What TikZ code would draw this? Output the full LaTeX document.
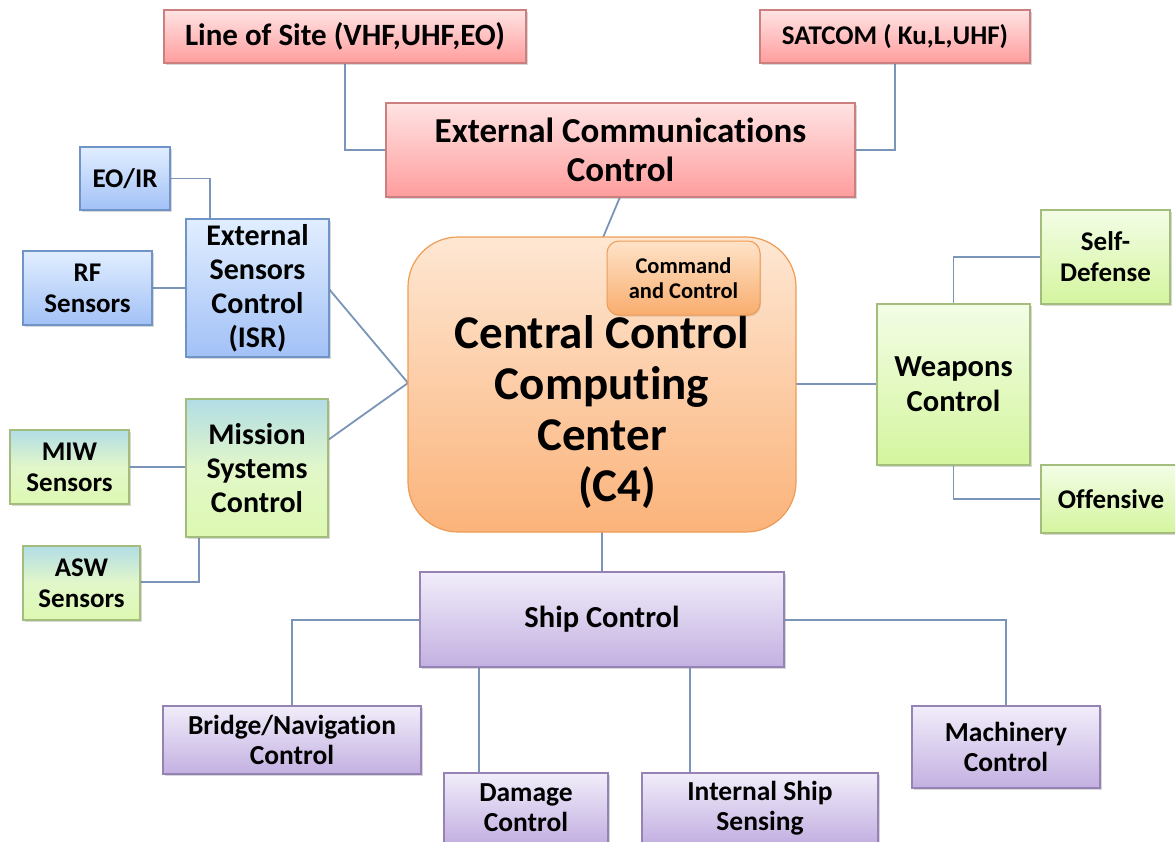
\documentclass[tikz,border=0pt]{standalone}
\usepackage{fontspec}
\setmainfont{Carlito}[Ligatures=NoCommon]
\usetikzlibrary{shadows}

\definecolor{linkc}{HTML}{7A95B8}
\definecolor{pinkT}{HTML}{FFE3E3}\definecolor{pinkB}{HTML}{FF9D9D}\definecolor{pinkD}{HTML}{CC7F7F}
\definecolor{blueT}{HTML}{E1EEFF}\definecolor{blueB}{HTML}{A2C1F6}\definecolor{blueD}{HTML}{7093C8}
\definecolor{grnT}{HTML}{F3FDE6}\definecolor{grnB}{HTML}{D4F59E}\definecolor{grnD}{HTML}{A3BE7C}
\definecolor{tealT}{HTML}{B2DDE6}\definecolor{tealM}{HTML}{E2F7C9}\definecolor{tealB}{HTML}{DDF8B2}
\definecolor{purT}{HTML}{F1EDFA}\definecolor{purB}{HTML}{C3B0E1}\definecolor{purD}{HTML}{9583B3}
\definecolor{orT}{HTML}{FEE7D3}\definecolor{orB}{HTML}{FBB37A}\definecolor{orD}{HTML}{EE9C55}
\definecolor{ccT}{HTML}{FEE3C8}\definecolor{ccB}{HTML}{F9AD6E}

\newcommand{\fs}[2]{\fontsize{#1}{#2}\selectfont}

\tikzset{
  box/.style={rectangle, inner sep=0pt, align=center, line width=1.2pt,
    font=\bfseries, text=black,
    drop shadow={shadow xshift=1.5pt, shadow yshift=-2pt, opacity=0.25, fill=black!60}},
  pinkbox/.style={box, draw=pinkD, top color=pinkT, bottom color=pinkB},
  bluebox/.style={box, draw=blueD, top color=blueT, bottom color=blueB},
  greenbox/.style={box, draw=grnD, top color=grnT, bottom color=grnB},
  tealbox/.style={box, draw=grnD, top color=tealT, bottom color=tealB, middle color=tealM},
  purplebox/.style={box, draw=purD, top color=purT, bottom color=purB},
  link/.style={draw=linkc, line width=1.8pt},
  wh/.style 2 args={minimum width=#1pt, minimum height=#2pt},
}

\begin{document}
\begin{tikzpicture}[x=1pt, y=-1pt]
\clip (0,0) rectangle (1175,841);
\fill[white] (0,0) rectangle (1175,841);

% junction points for the connectors
\coordinate (c4w) at (408,383);
\coordinate (c4n) at (603,237.5);
\coordinate (escTop) at (210,219);
\coordinate (mscLow) at (199,537);
\coordinate (mscUp) at (328,440);
\coordinate (dmgX) at (479,0);
\coordinate (isX) at (690,0);

% connectors (drawn first so the boxes sit on top)
\draw[link] (345,63) |- (386,150);
\draw[link] (895,63) |- (855,150);
\draw[link] (620,197) -- (c4n);
\draw[link] (170,178.5) -| (escTop);
\draw[link] (152,288) -- (186,288);
\draw[link] (329,289) -- (c4w);
\draw[link] (mscUp) -- (c4w);
\draw[link] (129,467) -- (186,467);
\draw[link] (140,582) -| (mscLow);
\draw[link] (796,384) -- (877,384);
\draw[link] (1041,257) -| (953.5,304);
\draw[link] (953.5,465) |- (1041,499);
\draw[link] (602,532) -- (602,572);
\draw[link] (420,620) -| (292,706);
\draw[link] (784,620) -| (1006,706);
\draw[link] (dmgX |- 0,667) -- (dmgX |- 0,773);
\draw[link] (isX |- 0,667) -- (isX |- 0,773);

% communications
\node[pinkbox, wh={362}{53}, font=\bfseries\fs{31}{34}] (los) at (345,36.5) {Line of Site (VHF,UHF,EO)};
\node[pinkbox, wh={270}{53}, font=\bfseries\fs{27}{30}] (sat) at (895,36.5) {SATCOM ( Ku,L,UHF)};
\node[pinkbox, wh={469}{94}, font=\bfseries\fs{35}{39}] (ecc) at (620.5,150) {External Communications\\Control};

% central computing center
\node[rectangle, rounded corners=50pt, wh={388}{295}, draw=orD, line width=1.2pt,
  top color=orT, bottom color=orB] (c4) at (602,384.5) {};
\node[font=\bfseries\fs{47}{51}, align=center, inner sep=0pt] (c4t) at (602,412)
  {Central Control\\Computing\\Center\\\hspace*{30pt}(C4)};
\node[rectangle, rounded corners=12pt, wh={153}{74}, draw=orD, line width=1pt,
  top color=ccT, bottom color=ccB, align=center, inner sep=0pt,
  font=\bfseries\fs{22.5}{25},
  drop shadow={shadow xshift=1pt, shadow yshift=-1.5pt, opacity=0.2, fill=black!60}] (cc) at (683.5,278)
  {Command\\and Control};

% sensors
\node[bluebox, wh={143}{138}, font=\bfseries\fs{30}{34}] (esc) at (257.5,288) {External\\Sensors\\Control\\(ISR)};
\node[bluebox, wh={90}{63}, font=\bfseries\fs{27}{31}] (eoir) at (125,178.5) {EO/IR};
\node[bluebox, wh={129}{74}, font=\bfseries\fs{27}{31}] (rf) at (87.5,288) {RF\\Sensors};

% mission systems
\node[tealbox, wh={142}{138}, font=\bfseries\fs{30}{34}] (msc) at (257,468) {Mission\\Systems\\Control};
\node[tealbox, wh={119}{74}, font=\bfseries\fs{27}{31}] (miw) at (69.5,467) {MIW\\Sensors};
\node[tealbox, wh={117}{74}, font=\bfseries\fs{27}{31}] (asw) at (81.5,583) {ASW\\Sensors};

% weapons
\node[greenbox, wh={153}{161}, font=\bfseries\fs{30.5}{35}] (wpn) at (953.5,384.5) {Weapons\\Control};
\node[greenbox, wh={129}{94}, font=\bfseries\fs{27}{31}] (selfd) at (1105.5,257) {Self-\\Defense};
\node[greenbox, wh={140}{68}, font=\bfseries\fs{27}{31}] (off) at (1111,499) {Offensive};

% ship control
\node[purplebox, wh={364}{95}, font=\bfseries\fs{30.5}{34}] (ship) at (602,619.5) {Ship Control};
\node[purplebox, wh={258}{68}, font=\bfseries\fs{27.5}{30}] (bridge) at (292,740) {Bridge/Navigation\\Control};
\node[purplebox, wh={164}{70}, font=\bfseries\fs{27.5}{30}] (dmg) at (526,808) {Damage\\Control};
\node[purplebox, wh={236}{70}, font=\bfseries\fs{27.5}{30}] (isens) at (760,808) {Internal Ship\\Sensing};
\node[purplebox, wh={188}{82}, font=\bfseries\fs{27.5}{30}] (mach) at (1006,747) {Machinery\\Control};
\end{tikzpicture}
\end{document}
